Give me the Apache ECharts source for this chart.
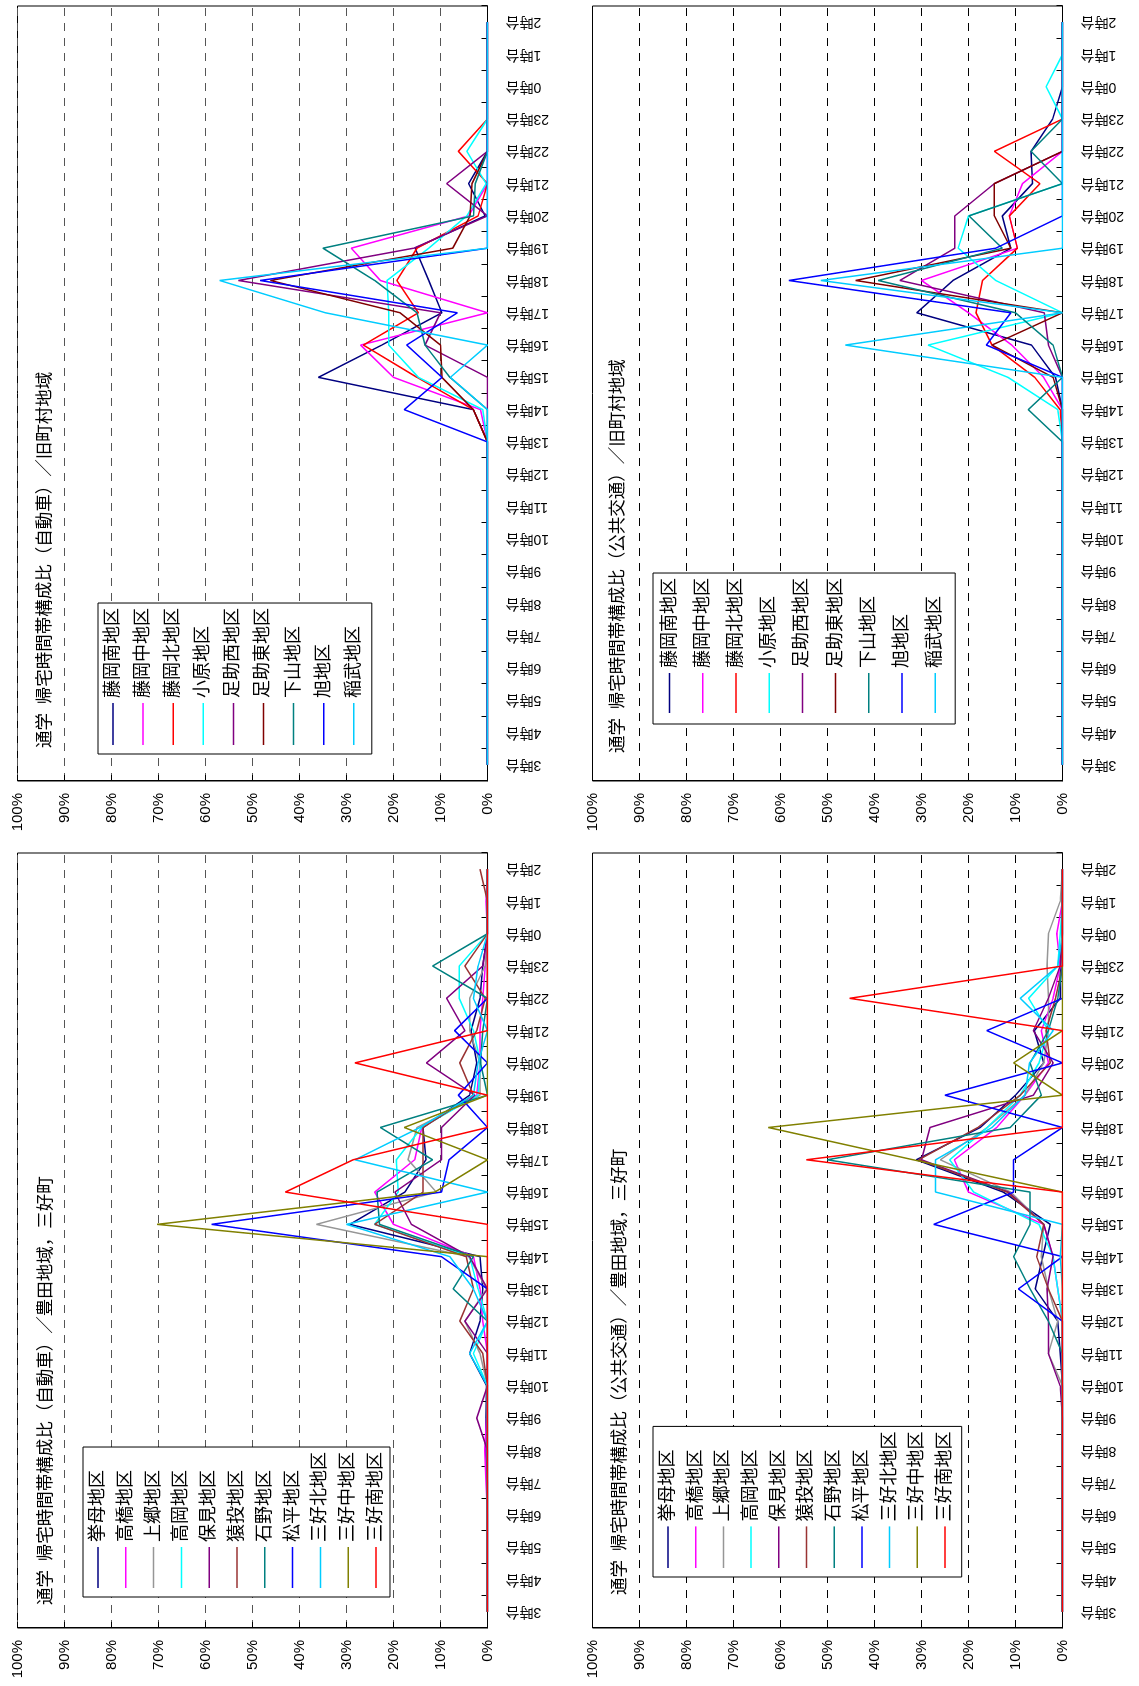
<!DOCTYPE html>
<html>
<head>
<meta charset="utf-8">
<title>通学 帰宅時間帯構成比</title>
<script src="https://cdn.jsdelivr.net/npm/echarts/dist/echarts.min.js"></script>
<style>
    html, body { margin: 0; padding: 0; background: #fff; }
    body { width: 1139px; height: 1686px; position: relative; overflow: hidden; }
    /* each chart is drawn landscape, then turned a quarter turn left */
    .panel { position: absolute; width: 843px; height: 570px; transform-origin: 0 0; transform: translate(0, 843px) rotate(-90deg); }
</style>
</head>
<body>
<div id="p1" class="panel" style="left:0;top:0"></div>
<div id="p2" class="panel" style="left:575px;top:0"></div>
<div id="p3" class="panel" style="left:0;top:847px"></div>
<div id="p4" class="panel" style="left:575px;top:847px"></div>
<script>
// 時間帯 (3時台 → 2時台)
var hours = ['3時台', '4時台', '5時台', '6時台', '7時台', '8時台', '9時台', '10時台', '11時台', '12時台',
    '13時台', '14時台', '15時台', '16時台', '17時台', '18時台', '19時台', '20時台', '21時台', '22時台',
    '23時台', '0時台', '1時台', '2時台'];

// 旧町村地域
var oldAreas = ['藤岡南地区', '藤岡中地区', '藤岡北地区', '小原地区', '足助西地区', '足助東地区', '下山地区', '旭地区', '稲武地区'];
// 豊田地域・三好町
var toyAreas = ['挙母地区', '高橋地区', '上郷地区', '高岡地区', '保見地区', '猿投地区', '石野地区', '松平地区', '三好北地区', '三好中地区', '三好南地区'];

// 自動車 / 旧町村地域 (%)
var oldCar_fujiokaMinami = [0, 0, 0, 0, 0, 0, 0, 0, 0, 0, 0, 3, 36, 22.5, 9.7, 12.5, 15.4, 0.5, 4, 0, 0, 0, 0, 0];
var oldCar_fujiokaNaka   = [0, 0, 0, 0, 0, 0, 0, 0, 0, 0, 0, 1.5, 20, 27, 0, 22.8, 29, 4, 0, 0, 0, 0, 0, 0];
var oldCar_fujiokaKita   = [0, 0, 0, 0, 0, 0, 0, 0, 0, 0, 0, 3, 15, 26.4, 14.7, 19.3, 15, 2, 0, 6.2, 0, 0, 0, 0];
var oldCar_obara         = [0, 0, 0, 0, 0, 0, 0, 0, 0, 0, 0, 1, 14.7, 21, 21, 21.4, 12.5, 4.4, 0.3, 4.4, 0, 0, 0, 0];
var oldCar_asukeNishi    = [0, 0, 0, 0, 0, 0, 0, 0, 0, 0, 0, 0, 0, 13.3, 10, 53, 15.7, 0, 8.7, 0, 0, 0, 0, 0];
var oldCar_asukeHigashi  = [0, 0, 0, 0, 0, 0, 0, 0, 0, 0, 0, 3, 9.7, 10, 18.6, 46.2, 7.4, 3.7, 3.3, 0, 0, 0, 0, 0];
var oldCar_shimoyama     = [0, 0, 0, 0, 0, 0, 0, 0, 0, 0, 0, 0, 8, 13.3, 15, 24, 35, 3, 2.6, 0, 0, 0, 0, 0];
var oldCar_asahi         = [0, 0, 0, 0, 0, 0, 0, 0, 0, 0, 0, 17.7, 9.7, 17.2, 6.4, 48.4, 0, 0, 0, 0, 0, 0, 0, 0];
var oldCar_inabu         = [0, 0, 0, 0, 0, 0, 0, 0, 0, 0, 0, 0, 7.9, 0, 34.5, 57, 0, 0, 0, 0, 0, 0, 0, 0];

// 公共交通 / 旧町村地域 (%)
var oldBus_fujiokaMinami = [0, 0, 0, 0, 0, 0, 0, 0, 0, 0, 0, 0, 1.5, 6.6, 31, 23.3, 11, 12.8, 6.4, 6.7, 2.1, 0, 0, 0];
var oldBus_fujiokaNaka   = [0, 0, 0, 0, 0, 0, 0, 0, 0, 0, 0, 0, 4, 10.8, 20, 30, 9.6, 11.3, 8.5, 0, 0, 0, 0, 0];
var oldBus_fujiokaKita   = [0, 0, 0, 0, 0, 0, 0, 0, 0, 0, 0, 0.5, 5.9, 15, 18.4, 17, 9.6, 11.3, 4.8, 14.5, 0, 0, 0, 0];
var oldBus_obara         = [0, 0, 0, 0, 0, 0, 0, 0, 0, 0, 0, 1, 11.6, 28.6, 0, 14.2, 22.2, 20, 0, 0, 0, 3.5, 0, 0];
var oldBus_asukeNishi    = [0, 0, 0, 0, 0, 0, 0, 0, 0, 0, 0, 0, 0, 3, 3.9, 34.6, 22.9, 22.9, 14.5, 0, 0, 0, 0, 0];
var oldBus_asukeHigashi  = [0, 0, 0, 0, 0, 0, 0, 0, 0, 0, 0, 0, 2, 15, 0, 44, 11, 14.5, 14.5, 0, 0, 0, 0, 0];
var oldBus_shimoyama     = [0, 0, 0, 0, 0, 0, 0, 0, 0, 0, 0, 7.3, 0, 2, 10, 39.2, 12.8, 19.9, 0, 6.7, 0, 0, 0, 0];
var oldBus_asahi         = [0, 0, 0, 0, 0, 0, 0, 0, 0, 0, 0, 0, 0, 16.2, 11, 58.2, 14.2, 0, 0, 0, 0, 0, 0, 0];
var oldBus_inabu         = [0, 0, 0, 0, 0, 0, 0, 0, 0, 0, 0, 0, 0, 46.2, 0, 51.4, 0, 0, 0, 0, 0, 0, 0, 0];

// 自動車 / 豊田地域・三好町 (%)
var toyCar_koromo        = [0, 0, 0, 0, 0, 0.4, 0.3, 0.2, 3.8, 1.6, 1, 1.6, 29.3, 17.6, 13.1, 13.7, 3.8, 2.3, 3.5, 1.6, 1, 0, 0, 0];
var toyCar_takahashi     = [0, 0, 0, 0, 0.3, 0.6, 0.2, 0, 0, 1, 1.6, 3, 20, 24, 15.5, 14, 2.3, 1.6, 1.6, 1, 0.5, 0, 0.3, 0];
var toyCar_kamigo        = [0, 0, 0, 0, 0, 0, 0, 0, 1.6, 4.8, 0.2, 4, 36.4, 10.9, 16.9, 15, 1.6, 1.6, 3.8, 3.8, 0.5, 0, 0, 0];
var toyCar_takaoka       = [0, 0, 0, 0, 0, 0, 0, 0, 3, 0, 2, 3.8, 24, 19, 19.4, 14, 2, 1.5, 3, 6, 6, 0, 0, 0];
var toyCar_homi          = [0, 0, 0, 0, 0, 0, 2.3, 0, 0, 4.8, 0, 3.8, 16.2, 19.7, 9.8, 9.8, 2.7, 13, 4.8, 8.7, 1, 0, 0, 0];
var toyCar_nage          = [0, 0, 0, 0, 0, 0, 0, 0, 1, 5.9, 3, 4.5, 24, 13.7, 13.7, 13.7, 3, 5.9, 2.3, 0.5, 4.8, 0, 0, 1.6];
var toyCar_ishino        = [0, 0, 0, 0, 0, 0, 0, 0, 0, 0, 7.3, 3, 23, 23.5, 11.7, 22.8, 0, 1.5, 1, 0, 11.7, 0, 0, 0];
var toyCar_matsudaira    = [0, 0, 0, 0, 0, 0, 0, 0, 0, 0, 0, 9.8, 58.7, 9.8, 8.2, 0, 6.2, 0, 7, 0, 0, 0, 0, 0];
var toyCar_miyoshiKita   = [0, 0, 0, 0, 0, 0, 0, 0, 3.8, 0, 3, 8, 30, 0, 28.2, 14.4, 3, 2, 0, 3, 2, 0, 0, 0];
var toyCar_miyoshiNaka   = [0, 0, 0, 0, 0, 0, 0, 0, 0, 0, 0, 0, 70.3, 11.2, 0, 17.7, 0, 0, 0, 0, 0, 0, 0, 0];
var toyCar_miyoshiMinami = [0, 0, 0, 0, 0, 0, 0, 0, 0, 0, 0, 0, 0, 43, 28.6, 0, 0, 28.2, 0, 0, 0, 0, 0, 0];

// 公共交通 / 豊田地域・三好町 (%)
var toyBus_koromo        = [0, 0, 0, 0, 0, 0, 0, 0, 0.5, 1, 5.8, 4.2, 2.6, 12.6, 31.1, 17.5, 10, 4, 6, 0.5, 0.5, 0, 0, 0];
var toyBus_takahashi     = [0, 0, 0, 0, 0, 0, 0, 0, 0, 0, 1, 2, 4, 20, 23, 14, 8, 3, 4.5, 2, 0.5, 1.2, 0, 0];
var toyBus_kamigo        = [0, 0, 0, 0, 0, 0, 0, 0, 3, 1, 3, 4.5, 4, 11, 26, 16, 8, 4, 3, 3, 3.3, 3, 0.5, 0];
var toyBus_takaoka       = [0, 0, 0, 0, 0, 0, 0, 0, 0, 0, 1, 2, 5, 18.9, 24, 16, 9, 5, 3, 7.2, 1, 0.5, 0, 0];
var toyBus_homi          = [0, 0, 0, 0, 0, 0, 0, 0.5, 3, 3, 3.3, 2, 4, 11.5, 30, 28.2, 6.2, 2, 6.2, 3, 0.5, 0, 0, 0];
var toyBus_nage          = [0, 0, 0, 0, 0, 0, 0, 0, 0, 0, 3, 5.5, 4, 11.8, 30.6, 18, 9, 2.6, 3.5, 1.5, 0, 0, 0, 0];
var toyBus_ishino        = [0, 0, 0, 0, 0, 0, 0, 0, 0, 3, 6.9, 10.4, 6.9, 6.9, 50.1, 11.1, 4.5, 6.9, 3, 1, 0, 0, 0, 0];
var toyBus_matsudaira    = [0, 0, 0, 0, 0, 0, 0, 0, 0, 0, 9.4, 0, 27.4, 10.4, 10.4, 0, 25, 0, 16.1, 0, 0, 0, 0, 0];
var toyBus_miyoshiKita   = [0, 0, 0, 0, 0, 0, 0, 0, 0, 0, 0, 0.5, 0, 27, 27, 15, 8, 7, 2, 9, 1, 0, 0, 0];
var toyBus_miyoshiNaka   = [0, 0, 0, 0, 0, 0, 0, 0, 0, 0, 0, 0, 0, 0, 31.8, 62.6, 0, 10.4, 0, 0, 0, 0, 0, 0];
var toyBus_miyoshiMinami = [0, 0, 0, 0, 0, 0, 0, 0, 0, 0, 0, 0, 0, 0, 54.5, 0, 0, 0, 0, 45.3, 0, 0, 0, 0];

var FONT = "'Liberation Sans', 'Noto Sans CJK JP', sans-serif";
var oldColors = ['#000080', '#FF00FF', '#FF0000', '#00FFFF', '#800080', '#800000', '#008080', '#0000FF', '#00CCFF'];
var toyColors = ['#000080', '#FF00FF', '#969696', '#00FFFF', '#800080', '#993333', '#008080', '#0000FF', '#00CCFF', '#808000', '#FF0000'];

/*
 ** 1枚分のオプションを作る
 */
function makeOption(p) {
    var series = p.names.map(function (name, i) {
        return {
            name: name,
            type: 'line',
            data: p.data[i],
            symbol: 'none',
            lineStyle: { color: p.colors[i], width: 1.5 },
            itemStyle: { color: p.colors[i] },
            emphasis: { disabled: true }
        };
    });
    return {
        animation: false,
        title: {
            text: p.title, left: p.titleX, top: p.titleY, padding: 0,
            textStyle: { fontSize: 17.5, fontWeight: 'normal', color: '#000', fontFamily: FONT }
        },
        legend: {
            orient: 'vertical', left: p.legX, top: p.legY, icon: 'rect',
            itemWidth: p.legLine, itemHeight: 1.5, itemGap: p.legGap, padding: p.legPad,
            borderColor: '#000', borderWidth: 1, backgroundColor: '#fff',
            textStyle: { fontSize: 18, color: '#000', fontFamily: FONT },
            data: p.names
        },
        grid: {
            left: 62, right: 6, top: 17.5, bottom: 82.5, show: true,
            borderColor: '#000', borderWidth: 1, outerBoundsMode: 'none'
        },
        xAxis: {
            type: 'category', data: hours, boundaryGap: true,
            axisLine: { show: true, lineStyle: { color: '#000', width: 1 } },
            axisTick: { show: true, inside: true, length: 6, lineStyle: { color: '#000' } },
            axisLabel: { rotate: 90, margin: 18, fontSize: 14, color: '#000', fontFamily: FONT, interval: 0 },
            splitLine: { show: false }
        },
        yAxis: {
            type: 'value', min: 0, max: 100, interval: 10,
            axisLine: { show: true, lineStyle: { color: '#000', width: 1 } },
            axisTick: { show: true, inside: true, length: 6, lineStyle: { color: '#000' } },
            axisLabel: { formatter: '{value}%', margin: 12, fontSize: 15, color: '#000', fontFamily: FONT },
            splitLine: { show: true, lineStyle: { color: p.gridColor, type: [8, 7], width: 1 } }
        },
        series: series
    };
}

var panels = [
    {
        id: 'p1', title: '通学\u2002帰宅時間帯構成比（自動車）／旧町村地域', titleX: 95, titleY: 36,
        names: oldAreas, colors: oldColors, gridColor: '#555',
        data: [oldCar_fujiokaMinami, oldCar_fujiokaNaka, oldCar_fujiokaKita, oldCar_obara, oldCar_asukeNishi,
            oldCar_asukeHigashi, oldCar_shimoyama, oldCar_asahi, oldCar_inabu],
        legX: 89, legY: 98, legLine: 42, legGap: 12.1, legPad: [6, 5, 9, 9]
    },
    {
        id: 'p2', title: '通学\u2002帰宅時間帯構成比（公共交通）／旧町村地域', titleX: 90, titleY: 34.5,
        names: oldAreas, colors: oldColors, gridColor: '#000',
        data: [oldBus_fujiokaMinami, oldBus_fujiokaNaka, oldBus_fujiokaKita, oldBus_obara, oldBus_asukeNishi,
            oldBus_asukeHigashi, oldBus_shimoyama, oldBus_asahi, oldBus_inabu],
        legX: 119, legY: 78, legLine: 40, legGap: 15.2, legPad: [7.6, 5, 11, 11]
    },
    {
        id: 'p3', title: '通学\u2002帰宅時間帯構成比（自動車）／豊田地域，三好町', titleX: 85, titleY: 37.5,
        names: toyAreas, colors: toyColors, gridColor: '#555',
        data: [toyCar_koromo, toyCar_takahashi, toyCar_kamigo, toyCar_takaoka, toyCar_homi, toyCar_nage,
            toyCar_ishino, toyCar_matsudaira, toyCar_miyoshiKita, toyCar_miyoshiNaka, toyCar_miyoshiMinami],
        legX: 93, legY: 83, legLine: 41, legGap: 9.8, legPad: [6, 5, 5, 9]
    },
    {
        id: 'p4', title: '通学\u2002帰宅時間帯構成比（公共交通）／豊田地域，三好町', titleX: 95, titleY: 36,
        names: toyAreas, colors: toyColors, gridColor: '#000',
        data: [toyBus_koromo, toyBus_takahashi, toyBus_kamigo, toyBus_takaoka, toyBus_homi, toyBus_nage,
            toyBus_ishino, toyBus_matsudaira, toyBus_miyoshiKita, toyBus_miyoshiNaka, toyBus_miyoshiMinami],
        legX: 113, legY: 78, legLine: 41.6, legGap: 9.7, legPad: [6, 5, 7.7, 9]
    }
];

panels.forEach(function (p) {
    var chart = echarts.init(document.getElementById(p.id), null, { renderer: 'canvas' });
    chart.setOption(makeOption(p));
});
</script>
</body>
</html>
